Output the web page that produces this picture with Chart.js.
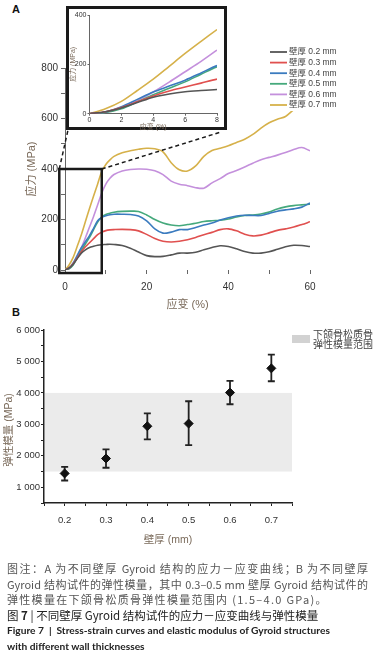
<!DOCTYPE html>
<html>
<head>
<meta charset="utf-8">
<script src="https://cdn.jsdelivr.net/npm/chart.js@4.4.1/dist/chart.umd.min.js"></script>
<style>
  body { margin: 0; background: #fff; width: 380px; height: 667px; position: relative; overflow: hidden;
         font-family: "Liberation Sans", "Noto Sans CJK SC", sans-serif; }
  .abs { position: absolute; }
  #mainWrap { left: 0; top: 0; width: 380px; height: 312px; }
  #insetBox { left: 66px; top: 6px; width: 155px; height: 118px; border: 3px solid #1a1a1a; background: #fff; }
  #insetWrap { left: 69px; top: 9px; width: 155px; height: 122px; }
  #modWrap { left: 0; top: 310px; width: 380px; height: 245px; }
  .panel { font-weight: bold; font-size: 11px; color: #111; }
  #caption { left: 7px; top: 561px; width: 361px; font-family: "Noto Sans CJK SC", sans-serif; }
  #caption div { white-space: nowrap; height: 15.5px; line-height: 15.5px; }
  .note { font-size: 11px; color: #555; }
  .just { text-align: justify; text-align-last: justify; }
  .fig { font-size: 11.5px; color: #222; }
  .en { font-family: Lato, "Liberation Sans", sans-serif; font-weight: bold; font-size: 10.2px; color: #222; }
</style>
</head>
<body>
<div class="abs panel" style="left:12px;top:3px;">A</div>
<div class="abs panel" style="left:12px;top:306px;">B</div>
<div id="mainWrap" class="abs"><canvas id="mainChart"></canvas></div>
<div id="insetBox" class="abs"></div>
<div id="insetWrap" class="abs"><canvas id="insetChart"></canvas></div>
<div id="modWrap" class="abs"><canvas id="modChart"></canvas></div>
<div id="caption" class="abs">
  <div class="note just">图注：A 为不同壁厚 Gyroid 结构的应力－应变曲线；B 为不同壁厚</div>
  <div class="note just">Gyroid 结构试件的弹性模量，其中 0.3–0.5 mm 壁厚 Gyroid 结构试件的</div>
  <div class="note" style="letter-spacing:1.3px;">弹性模量在下颌骨松质骨弹性模量范围内 (1.5–4.0 GPa)。</div>
  <div class="fig">图 <b>7</b> | 不同壁厚 Gyroid 结构试件的应力－应变曲线与弹性模量</div>
  <div class="en">Figure 7 &nbsp;|&nbsp; Stress-strain curves and elastic modulus of Gyroid structures</div>
  <div class="en">with different wall thicknesses</div>
</div>
<script>
// strain (%) sample points shared by all curves
const strain = [0,1,2,3,4,5,6,7,8,9,10,11,12,14,16,18,20,22,24,26,28,30,32,34,36,38,40,42,44,46,48,50,52,54,56,58,60];
const wallLabels = ['壁厚 0.2 mm', '壁厚 0.3 mm', '壁厚 0.4 mm', '壁厚 0.5 mm', '壁厚 0.6 mm', '壁厚 0.7 mm'];
// stress (MPa)
const stress02 = [0,8,23,45,67,80,89,94,98,100,101,102,101,97,86,71,57,53,54,60,67,67,70,80,89,96,93,84,73,67,67,72,82,92,98,97,93];
const stress03 = [0,8,25,48,72,92,108,124,140,150,156,159,160,161,160,155,141,125,114,111,114,120,129,140,149,160,163,155,142,135,138,147,157,163,170,180,191];
const stress04 = [0,7,28,58,88,112,136,165,195,208,215,219,221,221,220,214,195,163,146,150,160,160,168,178,186,198,207,214,217,216,216,224,233,238,242,249,265];
const stress05 = [0,5,20,48,77,103,129,160,190,210,220,225,229,232,233,232,218,200,186,178,175,180,185,192,195,197,202,210,216,218,222,230,242,250,255,258,261];
const stress06 = [0,6,23,53,88,128,170,212,258,305,340,363,378,392,398,400,399,393,378,352,340,334,326,324,345,362,382,394,408,423,437,446,455,465,477,485,472];
const stress07 = [0,20,50,94,140,192,244,293,341,390,418,436,450,464,472,478,482,480,468,425,397,392,412,450,473,482,492,505,518,537,562,583,597,608,635,660,685];

// panel B
const thickness = [0.2, 0.3, 0.4, 0.5, 0.6, 0.7];
const modulusMean = [1440, 1915, 2940, 3025, 4010, 4780];
const modulusLow = [1215, 1620, 2520, 2340, 3640, 4370];
const modulusHigh = [1650, 2205, 3350, 3735, 4385, 5215];
const boneRange = [1500, 4000];
const boneLabel = ['下颌骨松质骨', '弹性模量范围'];

const lineColors = ['#555555', '#e0504f', '#3b7bbf', '#45a97c', '#c490dc', '#d6b14a'];
const allStress = [stress02, stress03, stress04, stress05, stress06, stress07];

Chart.defaults.font.family = '"Liberation Sans", "Noto Sans CJK SC", sans-serif';
Chart.defaults.animation = false;

const makeDatasets = () => allStress.map((s, i) => ({
    label: wallLabels[i],
    data: s,
    borderColor: lineColors[i],
    borderWidth: 1.6,
    pointRadius: 0,
    tension: 0.3,
    fill: false
}));

const titleColor = '#7a6a5a';

// zoom box, dashed connectors and legend for the main chart
const mainExtras = {
    id: 'mainExtras',
    afterDraw(chart) {
        const { ctx, scales: { x, y } } = chart;
        const l = x.getPixelForValue(-1.4), r = x.getPixelForValue(9);
        const t = y.getPixelForValue(400), b = y.getPixelForValue(-12);
        ctx.save();
        ctx.strokeStyle = '#1a1a1a';
        ctx.lineWidth = 2.5;
        ctx.strokeRect(l, t, r - l, b - t);

        const box = document.getElementById('insetBox');
        const boxL = box.offsetLeft + 2, boxR = box.offsetLeft + box.offsetWidth - 6;
        const boxB = box.offsetTop + box.offsetHeight;
        ctx.lineWidth = 1.5;
        ctx.setLineDash([4, 3]);
        ctx.beginPath();
        ctx.moveTo(l, t); ctx.lineTo(boxL, boxB);
        ctx.moveTo(r, t); ctx.lineTo(boxR, boxB + 2);
        ctx.stroke();
        ctx.setLineDash([]);

        // legend
        ctx.fillStyle = '#fff';
        ctx.fillRect(264, 45, 80, 66);
        ctx.font = '8.5px "Liberation Sans", "Noto Sans CJK SC", sans-serif';
        ctx.textBaseline = 'middle';
        chart.data.datasets.forEach((ds, i) => {
            const ly = 52 + i * 10.6;
            ctx.strokeStyle = ds.borderColor;
            ctx.lineWidth = 1.8;
            ctx.beginPath(); ctx.moveTo(270, ly); ctx.lineTo(287, ly); ctx.stroke();
            ctx.fillStyle = '#444';
            ctx.fillText(ds.label, 289, ly);
        });
        ctx.restore();
    }
};

new Chart(document.getElementById('mainChart'), {
    type: 'line',
    data: { labels: strain, datasets: makeDatasets() },
    options: {
        responsive: true,
        maintainAspectRatio: false,
        layout: { padding: { top: 68, right: 70, bottom: 0, left: 0 } },
        plugins: { legend: { display: false }, tooltip: { enabled: false } },
        scales: {
            x: {
                type: 'linear', min: 0, max: 60,
                ticks: { stepSize: 10, padding: 7, color: '#333', font: { size: 10 }, maxRotation: 0,
                         callback: v => (v % 20 === 0 ? v : '') },
                grid: { drawOnChartArea: false, tickLength: 4, color: '#666' },
                border: { display: false },
                title: { display: true, text: '应变 (%)', color: titleColor, font: { size: 11 }, padding: { top: 0, bottom: 0 } },
                afterFit: s => { s.height = 42; }
            },
            y: {
                min: 0, max: 800,
                ticks: { stepSize: 100, padding: 3, color: '#333', font: { size: 10 },
                         callback: v => (v % 200 === 0 ? v : '') },
                grid: { drawOnChartArea: false, tickLength: 4, color: '#666' },
                border: { color: '#666', width: 1 },
                title: { display: true, text: '应力 (MPa)', color: titleColor, font: { size: 11 }, padding: { top: 25, bottom: 0 } },
                afterFit: s => { s.width = 65; }
            }
        }
    },
    plugins: [mainExtras]
});

new Chart(document.getElementById('insetChart'), {
    type: 'line',
    data: { labels: strain, datasets: makeDatasets() },
    options: {
        responsive: true,
        maintainAspectRatio: false,
        layout: { padding: { top: 6, right: 7, bottom: 0, left: 0 } },
        plugins: { legend: { display: false }, tooltip: { enabled: false } },
        scales: {
            x: {
                type: 'linear', min: 0, max: 8,
                ticks: { stepSize: 2, padding: 0, color: '#333', font: { size: 7 }, maxRotation: 0 },
                grid: { drawOnChartArea: false, tickLength: 2, color: '#666' },
                border: { color: '#666', width: 1 },
                title: { display: true, text: '应变 (%)', color: titleColor, font: { size: 7 }, padding: { top: 0, bottom: 0 } },
                afterFit: s => { s.height = 17.3; }
            },
            y: {
                min: 0, max: 400,
                ticks: { stepSize: 200, padding: 1, color: '#333', font: { size: 7 } },
                grid: { drawOnChartArea: false, tickLength: 2, color: '#666' },
                border: { color: '#666', width: 1 },
                title: { display: true, text: '应力 (MPa)', color: titleColor, font: { size: 7 }, padding: { top: 0, bottom: 0 } },
                afterFit: s => { s.width = 20.5; }
            }
        }
    }
});

// band, error bars, legend and y title for panel B
const modExtras = {
    id: 'modExtras',
    beforeDatasetsDraw(chart) {
        const { ctx, chartArea, scales: { x, y } } = chart;
        ctx.save();
        ctx.fillStyle = '#ebebeb';
        const top = y.getPixelForValue(boneRange[1]), bot = y.getPixelForValue(boneRange[0]);
        ctx.fillRect(chartArea.left + 1, top, chartArea.right - chartArea.left - 1, bot - top);

        ctx.strokeStyle = '#222';
        ctx.lineWidth = 1.8;
        thickness.forEach((t, i) => {
            const px = x.getPixelForValue(t);
            const hi = y.getPixelForValue(modulusHigh[i]), lo = y.getPixelForValue(modulusLow[i]);
            ctx.beginPath();
            ctx.moveTo(px, hi); ctx.lineTo(px, lo);
            ctx.moveTo(px - 3.5, hi); ctx.lineTo(px + 3.5, hi);
            ctx.moveTo(px - 3.5, lo); ctx.lineTo(px + 3.5, lo);
            ctx.stroke();
        });
        ctx.restore();
    },
    afterDraw(chart) {
        const { ctx, chartArea } = chart;
        ctx.save();
        ctx.fillStyle = '#d2d2d2';
        ctx.fillRect(chartArea.right, 25, 18, 8);
        ctx.fillStyle = '#444';
        ctx.font = '10px "Noto Sans CJK SC", sans-serif';
        ctx.textBaseline = 'middle';
        boneLabel.forEach((txt, i) => ctx.fillText(txt, chartArea.right + 21, 24 + i * 10.5));

        ctx.translate(9, 120);
        ctx.rotate(-Math.PI / 2);
        ctx.textAlign = 'center';
        ctx.fillStyle = titleColor;
        ctx.font = '10.5px "Liberation Sans", "Noto Sans CJK SC", sans-serif';
        ctx.fillText('弹性模量 (MPa)', 0, 0);
        ctx.restore();
    }
};

const spaced = v => String(v).replace(/\B(?=(\d{3})+(?!\d))/g, ' ');

new Chart(document.getElementById('modChart'), {
    type: 'scatter',
    data: {
        datasets: [{
            data: thickness.map((t, i) => ({ x: t, y: modulusMean[i] })),
            backgroundColor: '#111',
            borderColor: '#111',
            pointStyle: 'rectRot',
            pointRadius: 4.5
        }]
    },
    options: {
        responsive: true,
        maintainAspectRatio: false,
        layout: { padding: { top: 20, right: 88, bottom: 0, left: 0 } },
        plugins: { legend: { display: false }, tooltip: { enabled: false } },
        scales: {
            x: {
                type: 'linear', min: 0.15, max: 0.75,
                ticks: { stepSize: 0.05, padding: 8.7, color: '#333', font: { size: 9.5 }, maxRotation: 0,
                         callback: v => { const r = Math.round(v * 100); return (r % 10 === 0 && r >= 20 && r <= 70) ? (r / 100).toFixed(1) : ''; } },
                grid: { drawOnChartArea: false, tickLength: 3, color: '#222' },
                border: { color: '#222', width: 1.5 },
                title: { display: true, text: '壁厚 (mm)', color: titleColor, font: { size: 10.5 }, padding: { top: 0, bottom: 8.4 } },
                afterFit: s => { s.height = 52; }
            },
            y: {
                min: 500, max: 6000,
                ticks: { stepSize: 500, padding: 1, color: '#333', font: { size: 9.5 },
                         callback: v => (v % 1000 === 0 ? spaced(v) : '') },
                grid: { drawOnChartArea: false, tickLength: 3, color: '#222' },
                border: { color: '#222', width: 1.5 },
                afterFit: s => { s.width = 44; }
            }
        }
    },
    plugins: [modExtras]
});
</script>
</body>
</html>
